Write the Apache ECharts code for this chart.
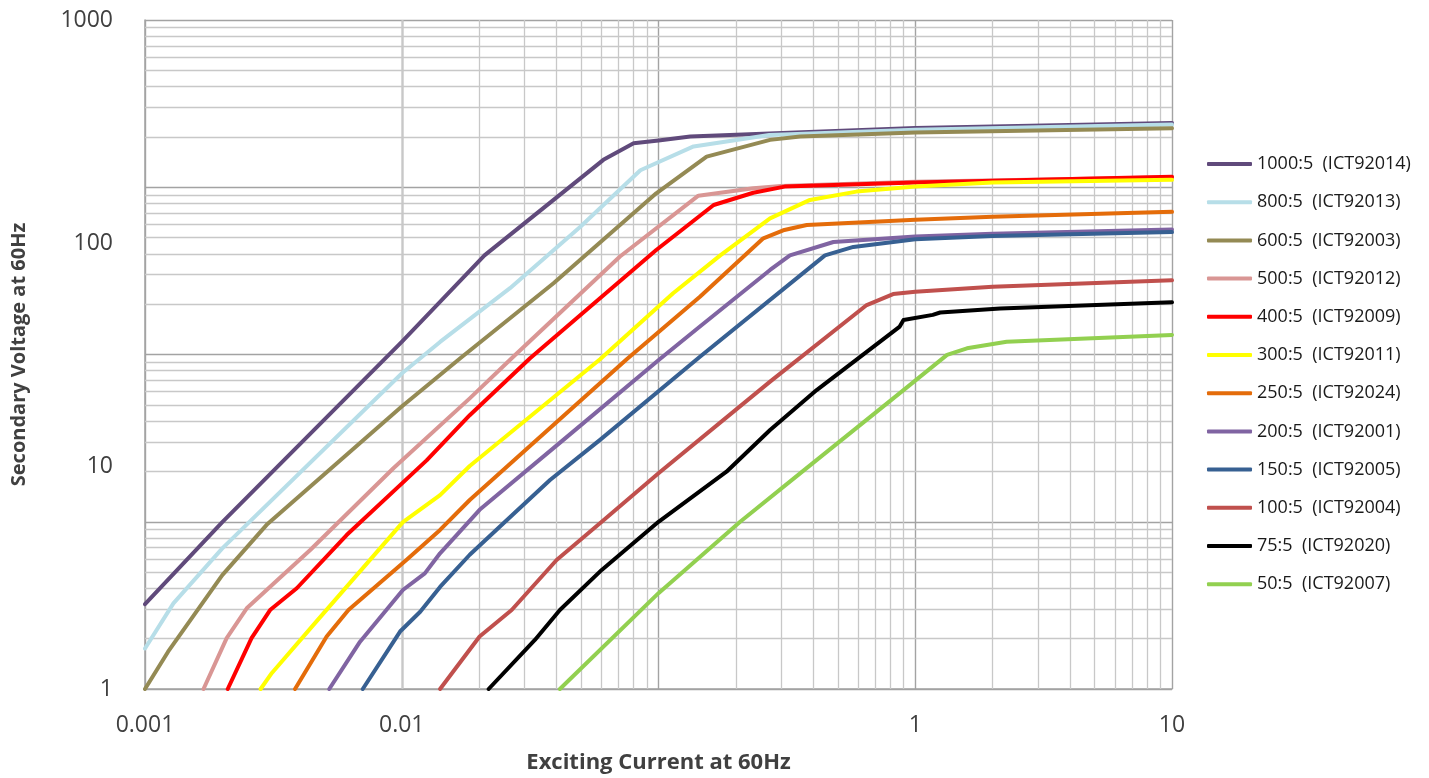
<!DOCTYPE html>
<html>
<head>
<meta charset="utf-8">
<script src="https://cdn.jsdelivr.net/npm/echarts@6/dist/echarts.min.js"></script>
<style>
html,body{margin:0;padding:0;background:#fff;}
#chart{width:1429px;height:778px;}
</style>
</head>
<body>
<div id="chart"></div>
<script>
// ---- data (Exciting current [A], Secondary voltage [V]) ----
const seriesNames = ['1000:5  (ICT92014)','800:5  (ICT92013)','600:5  (ICT92003)','500:5  (ICT92012)',
  '400:5  (ICT92009)','300:5  (ICT92011)','250:5  (ICT92024)','200:5  (ICT92001)',
  '150:5  (ICT92005)','100:5  (ICT92004)','75:5  (ICT92020)','50:5  (ICT92007)'];
const seriesColors = ['#604A7B','#B7DEE8','#948A54','#D99694','#FF0000','#FFFF00','#E46C0A','#8064A2',
  '#376092','#C0504D','#000000','#92D050'];

const s1000 = [[0.001,2.4],[0.002,5.6],[0.01,36],[0.021,88],[0.061,236],[0.08,280],[0.1,288],[0.133,300],[0.27,310],[1,328],[10,345]];
const s800  = [[0.001,1.52],[0.00129,2.42],[0.002,4.27],[0.01,26],[0.0141,36],[0.0264,62.7],[0.0495,118],[0.085,212],[0.137,271],[0.27,305],[1,322],[10,340]];
const s600  = [[0.001,1.0],[0.00123,1.47],[0.002,3.24],[0.003,5.5],[0.01,18.5],[0.0169,30.4],[0.039,66],[0.098,167],[0.154,244],[0.272,290],[0.356,300],[1,313],[10,327]];
const s500  = [[0.00169,1.0],[0.00208,1.69],[0.00249,2.3],[0.0044,4.2],[0.0093,9.8],[0.0184,20.1],[0.0268,30.4],[0.0708,87],[0.143,163],[0.234,176],[0.3,180],[1,188],[10,197]];
const s400  = [[0.0021,1.0],[0.0026,1.69],[0.00307,2.26],[0.0039,2.83],[0.0061,4.9],[0.0125,10.6],[0.0184,16.9],[0.0316,30.4],[0.098,93],[0.164,148],[0.234,168],[0.31,179],[1,187],[10,198]];
const s300  = [[0.00282,1.0],[0.00312,1.18],[0.00453,1.94],[0.0101,5.6],[0.0141,7.4],[0.0184,10.0],[0.0592,30.1],[0.114,59.5],[0.174,88],[0.272,129],[0.389,156],[0.59,170],[1,179],[2,187],[10,192]];
const s250  = [[0.00384,1.0],[0.0051,1.72],[0.0062,2.26],[0.01045,3.8],[0.0141,5.17],[0.0184,7.04],[0.0752,30.1],[0.145,57.4],[0.256,105],[0.306,114],[0.378,120.5],[1,127],[2,131],[10,138]];
const s200  = [[0.00522,1.0],[0.00688,1.63],[0.0101,2.78],[0.0123,3.3],[0.0141,4.06],[0.0201,6.36],[0.0426,13.1],[0.101,30.1],[0.145,42.2],[0.272,75.7],[0.325,88],[0.48,101],[1,107],[2,110],[10,115]];
const s150  = [[0.00705,1.0],[0.00985,1.81],[0.0118,2.22],[0.0141,2.87],[0.0184,4.0],[0.0249,5.54],[0.0378,8.65],[0.0592,13.1],[0.145,30.9],[0.445,88],[0.574,96],[1,104],[2,107.4],[10,112]];
const s100  = [[0.0141,1.0],[0.0201,1.72],[0.0268,2.26],[0.0401,3.79],[0.0601,5.62],[0.1,9.27],[0.272,23.9],[0.647,52.7],[0.82,59],[1,60.5],[2,63.7],[10,68]];
const s75   = [[0.0218,1.0],[0.033,1.66],[0.0413,2.26],[0.0601,3.42],[0.1,5.62],[0.184,9.43],[0.272,14.5],[0.413,21.9],[0.87,42.2],[0.9,45.2],[1.17,47.6],[1.25,48.8],[2.14,50.9],[10,54.2]];
const s50   = [[0.0413,1.0],[0.1,2.69],[0.208,5.62],[0.356,9.27],[0.9,21.9],[1.33,31.5],[1.59,33.7],[2.27,36.1],[10,38.7]];
const seriesData = [s1000,s800,s600,s500,s400,s300,s250,s200,s150,s100,s75,s50];

// tick labels
const xTickValues = [0.001,0.01,0.1,1,10];
const xTickLabels = ['0.001','0.01','','1','10'];
const yTickValues = [1,10,100,1000];
const yTickLabels = ['1','10','100','1000'];

// gridline helper values (minor lines at 2..9 of each decade)
const xDecades = [0.001,0.01,0.1,1];
const gridDecades = [1,10,100,1000];
const minors = (decs) => { const out=[]; decs.forEach(d=>{ for(let k=2;k<=9;k++) out.push(+(d*k).toPrecision(6)); }); return out; };
const xMinor = minors(xDecades);
const yMinor = minors(gridDecades);

const FONT = 'Open Sans';
const labelFor = (vals, labs) => (v) => {
  const i = vals.findIndex(t => Math.abs(Math.log10(t) - Math.log10(v)) < 1e-6);
  return i >= 0 ? labs[i] : '';
};

const minorLine = {type:'solid', color:'#C8C8C8', width:1.3};
const majorLine = {type:'solid', color:'#A3A3A3', width:1.4};

const series = seriesNames.map((n,i)=>({
  name:n, type:'line', data:seriesData[i], symbol:'none', showSymbol:false, smooth:false,
  lineStyle:{width:4, color:seriesColors[i], cap:'round', join:'round'},
  itemStyle:{color:seriesColors[i]}, z:5, animation:false, clip:true
}));
series.unshift({
  name:'_gx', type:'line', data:[[1,10]], symbol:'none', lineStyle:{opacity:0}, silent:true, z:1, animation:false,
  markLine:{silent:true, symbol:['none','none'], label:{show:false}, animation:false,
    lineStyle:minorLine, emphasis:{disabled:true}, data:xMinor.map(v=>({xAxis:v}))}
});
series.unshift({
  name:'_gy', type:'line', yAxisIndex:1, data:[[1,10]], symbol:'none', lineStyle:{opacity:0}, silent:true, z:1, animation:false,
  markLine:{silent:true, symbol:['none','none'], label:{show:false}, animation:false,
    lineStyle:minorLine, emphasis:{disabled:true}, data:yMinor.map(v=>({yAxis:v}))}
});

const chart = echarts.init(document.getElementById('chart'), null, {renderer:'canvas'});
chart.setOption({
  animation:false,
  backgroundColor:'#ffffff',
  grid:{left:145, top:20, width:1027, height:669, containLabel:false, outerBoundsMode:'none'},
  legend:{
    orient:'vertical', left:1207, top:155, padding:0, icon:'roundRect',
    itemWidth:45, itemHeight:4, itemGap:20.2,
    data:seriesNames, selectedMode:false,
    textStyle:{fontFamily:FONT, fontSize:18, color:'#1a1a1a'}
  },
  xAxis:{
    type:'log', logBase:10, min:0.001, max:10,
    name:'Exciting Current at 60Hz', nameLocation:'middle', nameGap:63,
    nameTextStyle:{fontFamily:FONT, fontSize:22, fontWeight:'bold', color:'#404040'},
    axisLine:{show:true, lineStyle:{color:'#A3A3A3', width:1.5}},
    axisTick:{show:false},
    axisLabel:{fontFamily:FONT, fontSize:23, color:'#404040', margin:25, formatter:labelFor(xTickValues,xTickLabels)},
    splitLine:{show:true, lineStyle:majorLine}
  },
  yAxis:[{
    type:'log', logBase:10, min:1, max:1000,
    name:'Secondary Voltage at 60Hz', nameLocation:'middle', nameGap:116, nameRotate:90,
    nameTextStyle:{fontFamily:FONT, fontSize:20, fontWeight:'bold', color:'#404040'},
    axisLine:{show:true, lineStyle:{color:'#A3A3A3', width:1.5}},
    axisTick:{show:false},
    axisLabel:{fontFamily:FONT, fontSize:23, color:'#404040', margin:32, formatter:labelFor(yTickValues,yTickLabels)},
    splitLine:{show:false}
  },{
    type:'log', logBase:10, min:1, max:10000, position:'left',
    axisLine:{show:false}, axisTick:{show:false}, axisLabel:{show:false},
    splitLine:{show:true, lineStyle:majorLine}
  }],
  series:series
});
</script>
</body>
</html>
